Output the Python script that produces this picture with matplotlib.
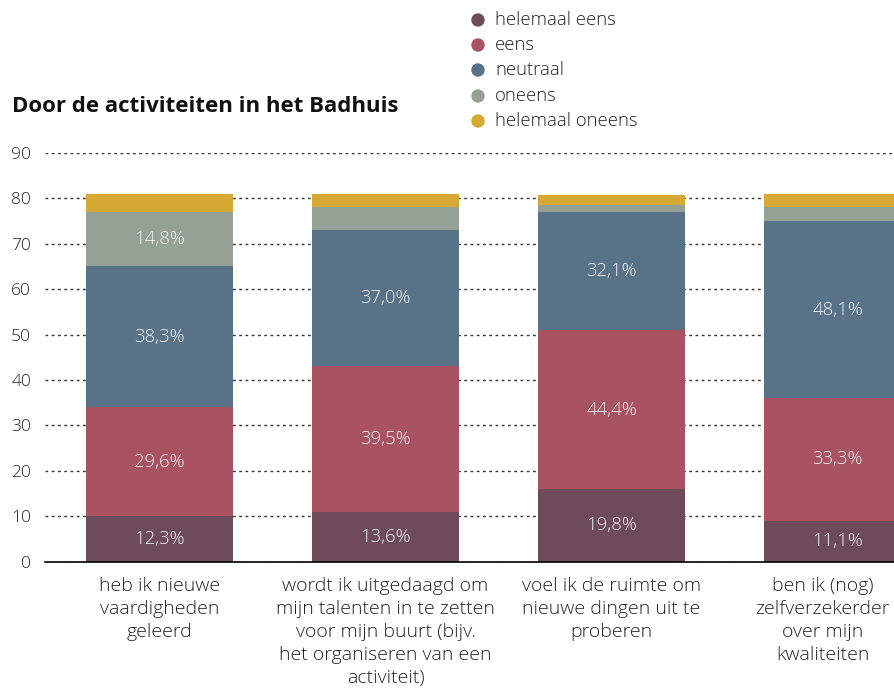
import matplotlib
matplotlib.use("Agg")
import matplotlib.pyplot as plt
import matplotlib.transforms as mtransforms
import numpy as np

plt.rcParams['font.family'] = ['Open Sans', 'DejaVu Sans']

categories = [
    "heb ik nieuwe\nvaardigheden\ngeleerd",
    "wordt ik uitgedaagd om\nmijn talenten in te zetten\nvoor mijn buurt (bijv.\nhet organiseren van een\nactiviteit)",
    "voel ik de ruimte om\nnieuwe dingen uit te\nproberen",
    "ben ik (nog)\nzelfverzekerder\nover mijn\nkwaliteiten",
]
series_names = ["helemaal eens", "eens", "neutraal", "oneens", "helemaal oneens"]
helemaal_eens = [10, 11, 16, 9]
eens = [24, 32, 35, 27]
neutraal = [31, 30, 26, 39]
oneens = [12, 5, 1.5, 3]
helemaal_oneens = [4, 3, 2.3, 3]
labels_helemaal_eens = ["12,3%", "13,6%", "19,8%", "11,1%"]
labels_eens = ["29,6%", "39,5%", "44,4%", "33,3%"]
labels_neutraal = ["38,3%", "37,0%", "32,1%", "48,1%"]
labels_oneens = ["14,8%", "", "", ""]
labels_helemaal_oneens = ["", "", "", ""]
yticks = [0, 10, 20, 30, 40, 50, 60, 70, 80, 90]
title = "Door de activiteiten in het Badhuis"

colors = ["#6e4b58", "#a85262", "#587388", "#95a195", "#d6a935"]

series = [helemaal_eens, eens, neutraal, oneens, helemaal_oneens]
seg_labels = [labels_helemaal_eens, labels_eens, labels_neutraal, labels_oneens, labels_helemaal_oneens]

fig = plt.figure(figsize=(8.95, 6.93), dpi=100)
ax = fig.add_axes([45/895, 1-561.7/693, 1-45/895, (561.7-152.9)/693])

x = np.arange(len(categories))
bottom = np.zeros(len(categories))
for vals, col, labs in zip(series, colors, seg_labels):
    vals = np.array(vals, dtype=float)
    ax.bar(x, vals, bottom=bottom, width=0.65, color=col, zorder=3, linewidth=0)
    for xi, b, v, lab in zip(x, bottom, vals, labs):
        if lab:
            ax.text(xi, b + v/2, lab, ha='center', va='center', color='#f4f4f4',
                    fontsize=13.3, fontweight='light', zorder=4)
    bottom += vals

ax.set_xlim(-0.507, 3.254)
ax.set_ylim(0, 90)
ax.set_yticks(yticks)
ax.set_yticklabels([str(t) for t in yticks], fontsize=12.5, fontweight='light', color='#222222')
ax.grid(axis='y', linestyle=(0, (2, 2.5)), color='#333333', linewidth=1, zorder=0)
for s in ['top', 'right', 'left']:
    ax.spines[s].set_visible(False)
ax.spines['bottom'].set_color('black')
ax.spines['bottom'].set_linewidth(1.2)
ax.spines['bottom'].set_zorder(5)
ax.tick_params(axis='y', length=0, pad=10)
ax.tick_params(axis='x', length=0, pad=11)
ax.set_xticks(x)
ax.set_xticklabels(categories, fontsize=14, fontweight='light', color='#222222', linespacing=1.36)
last = ax.get_xticklabels()[-1]
last.set_transform(last.get_transform() + mtransforms.ScaledTranslation(-15/100, 0, fig.dpi_scale_trans))

fig.text(12/895, 1-107/693, title, fontsize=16, fontweight='bold', ha='left', va='center', color='#111111')

leg_y = [20, 45, 70, 96, 121]
for name, col, yy in zip(series_names, colors, leg_y):
    fig.patches.append(matplotlib.patches.Ellipse((478/895, 1-yy/693), 12/895, 12/693,
                                                  transform=fig.transFigure, color=col))
    fig.text(495/895, 1-yy/693, name, fontsize=13.3, fontweight='light', ha='left', va='center', color='#222222')

fig.savefig("out.png", dpi=100)
